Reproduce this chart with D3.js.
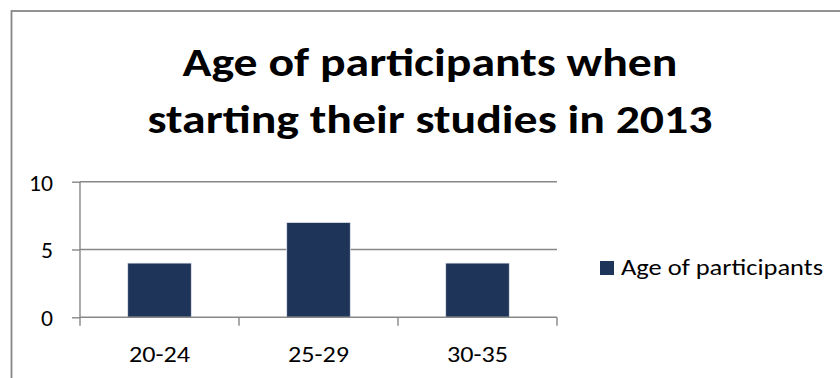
<!DOCTYPE html>
<html>
<head>
<meta charset="utf-8">
<script src="https://cdn.jsdelivr.net/npm/d3@7"></script>
<style>
  html, body { margin: 0; padding: 0; background: #fff; }
  svg { display: block; }
</style>
</head>
<body>
<svg id="chart" width="840" height="378"></svg>
<script>
const categories = ["20-24", "25-29", "30-35"];
const values = [4, 7, 4];
const yTicks = [0, 5, 10];
const seriesName = "Age of participants";
const titleLines = ["Age of participants when", "starting their studies in 2013"];

const FONT = "Calibri, Carlito, Lato, 'Open Sans', sans-serif";
const svg = d3.select("#chart");
const gray = "#878787";
const barColor = "#1f3459";

// outer chart border (extends beyond view on right/bottom)
svg.append("rect")
  .attr("x", 11.5).attr("y", 11)
  .attr("width", 900).attr("height", 500)
  .attr("fill", "none").attr("stroke", gray).attr("stroke-width", 1.8);

function fitLen(sel, target) {
  sel.attr("textLength", target).attr("lengthAdjust", "spacingAndGlyphs");
}

// title
const t1 = svg.append("text").attr("x", 430).attr("y", 76)
  .attr("text-anchor", "middle").attr("font-family", FONT)
  .attr("font-weight", "bold").attr("font-size", 40.5).attr("fill", "#000")
  .text(titleLines[0]);
const t2 = svg.append("text").attr("x", 430).attr("y", 133)
  .attr("text-anchor", "middle").attr("font-family", FONT)
  .attr("font-weight", "bold").attr("font-size", 40.5).attr("fill", "#000")
  .text(titleLines[1]);
fitLen(t1, 495); fitLen(t2, 565);

const x = d3.scaleBand().domain(categories).range([80, 557]).paddingInner(0).paddingOuter(0);
const y = d3.scaleLinear().domain([0, 10]).range([317.3, 181.7]);

// gridlines
svg.append("g").selectAll("line").data(yTicks.filter(d => d !== 0)).join("line")
  .attr("x1", 80).attr("x2", 557)
  .attr("y1", d => y(d)).attr("y2", d => y(d))
  .attr("stroke", gray).attr("stroke-width", 1.4);

// y axis
const yAxis = svg.append("g").attr("transform", "translate(80,0)")
  .call(d3.axisLeft(y).tickValues(yTicks).tickSize(8).tickPadding(19).tickFormat(d3.format("d")));
yAxis.select(".domain").attr("stroke", gray).attr("stroke-width", 1.4).attr("d", `M0,${y(10)}V${y(0) + 0.7}`);
yAxis.selectAll(".tick line").attr("stroke", gray).attr("stroke-width", 1.4);
yAxis.selectAll(".tick text")
  .attr("font-family", FONT).attr("font-size", 23.3).attr("fill", "#000")
  .attr("dy", "0.36em")
  .each(function() { const s = d3.select(this); fitLen(s, s.text().length * 12); });

// bars
const bw = x.bandwidth() / 2.5;
svg.append("g").selectAll("rect").data(values).join("rect")
  .attr("x", (d, i) => x(categories[i]) + x.bandwidth() / 2 - bw / 2)
  .attr("y", d => y(d))
  .attr("width", bw)
  .attr("height", d => y(0) - y(d))
  .attr("fill", barColor)
  .attr("stroke", "#e6e9ef").attr("stroke-width", 0.8);

// x axis line and boundary ticks
const xg = svg.append("g");
xg.append("line").attr("x1", 80).attr("x2", 557).attr("y1", y(0)).attr("y2", y(0))
  .attr("stroke", gray).attr("stroke-width", 1.4);
const bounds = [x(categories[0])].concat(categories.map(c => x(c) + x.bandwidth()));
xg.selectAll("line.tk").data(bounds).join("line").attr("class", "tk")
  .attr("x1", d => d).attr("x2", d => d)
  .attr("y1", y(0)).attr("y2", y(0) + 8.5)
  .attr("stroke", gray).attr("stroke-width", 1.4);
xg.selectAll("text").data(categories).join("text")
  .attr("x", d => x(d) + x.bandwidth() / 2)
  .attr("y", 353.5).attr("dy", "0.36em")
  .attr("text-anchor", "middle").attr("font-family", FONT)
  .attr("font-size", 23.3).attr("fill", "#000")
  .text(d => d)
  .each(function() { fitLen(d3.select(this), 61); });

// legend
const lg = svg.append("g");
lg.append("rect").attr("x", 600).attr("y", 261).attr("width", 14).attr("height", 14).attr("fill", barColor);
const lt = lg.append("text").attr("x", 621).attr("y", 266.5).attr("dy", "0.36em")
  .attr("font-family", FONT).attr("font-size", 23.3).attr("fill", "#000")
  .text(seriesName);
fitLen(lt, 202);
</script>
</body>
</html>
